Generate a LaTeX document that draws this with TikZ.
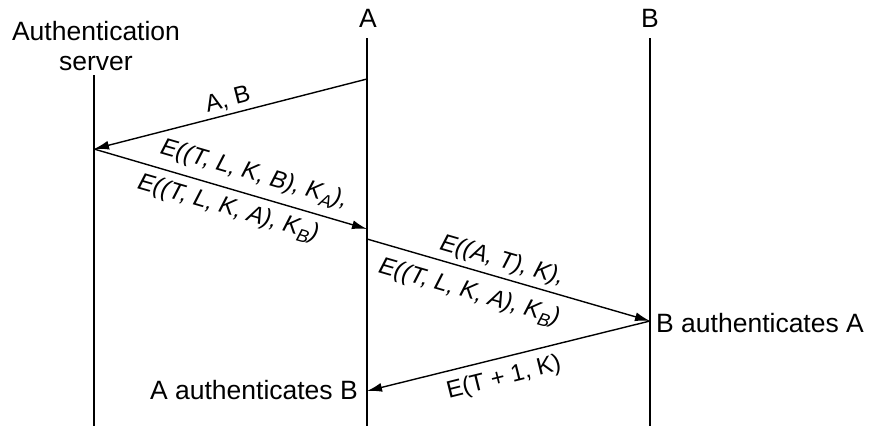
\documentclass[tikz,border=0pt]{standalone}
\usepackage{fontspec}
\setmainfont{Liberation Sans}
\usetikzlibrary{arrows.meta}
\newcommand{\sbx}[1]{\raisebox{-0.25em}{\fontsize{18}{20}\selectfont #1}}
\begin{document}
\begin{tikzpicture}[x=1pt,y=-1pt,
  txt/.style={font=\fontsize{26.5}{30}\selectfont, inner sep=0pt},
  lbl/.style={font=\fontsize{24}{28}\selectfont, inner sep=0pt},
  ilbl/.style={font=\fontsize{24}{28}\selectfont\itshape, inner sep=0pt},
  life/.style={line width=1.4pt},
  msg/.style={line width=1.4pt, -{Latex[length=15pt,width=9pt]}}]
\useasboundingbox (0,0) rectangle (871,426);
% heads
\node[txt, align=center] (hS) at (96,46) {Authentication\\server};
\node[txt] (hA) at (368,18) {A};
\node[txt] (hB) at (650,18) {B};
% lifelines
\coordinate (sT) at (94,75);  \coordinate (sB) at (94,426);
\coordinate (aT) at (367,38); \coordinate (aB) at (367,426);
\coordinate (bT) at (650,38); \coordinate (bB) at (650,426);
\draw[life] (sT) -- (sB);
\draw[life] (aT) -- (aB);
\draw[life] (bT) -- (bB);
% message endpoints
\coordinate (m1s) at (367,79);  \coordinate (m1e) at (94,149);
\coordinate (m2s) at (94,149);  \coordinate (m2e) at (367,229);
\coordinate (m3s) at (367,239); \coordinate (m3e) at (650,321);
\coordinate (m4s) at (650,321); \coordinate (m4e) at (367,391);
\draw[msg] (m1s) -- (m1e);
\draw[msg] (m2s) -- (m2e);
\draw[msg] (m3s) -- (m3e);
\draw[msg] (m4s) -- (m4e);
% labels
\node[lbl, rotate=14.4] (l1) at (228,100) {A, B};
\node[ilbl, rotate=-16.2] (l2a) at (254,175) {E((T, L, K, B), K\sbx{A}),};
\node[ilbl, rotate=-16.2] (l2b) at (228,209) {E((T, L, K, A), K\sbx{B})};
\node[ilbl, rotate=-16.2] (l3a) at (502,261) {E((A, T), K),};
\node[ilbl, rotate=-16.2] (l3b) at (469,293) {E((T, L, K, A), K\sbx{B})};
\node[lbl, rotate=14] (l4) at (504,378) {E(T + 1, K)};
\node[txt, anchor=west] (bauth) at (656,323) {B authenticates A};
\node[txt, anchor=east] (aauth) at (358,390) {A authenticates B};
\end{tikzpicture}
\end{document}
